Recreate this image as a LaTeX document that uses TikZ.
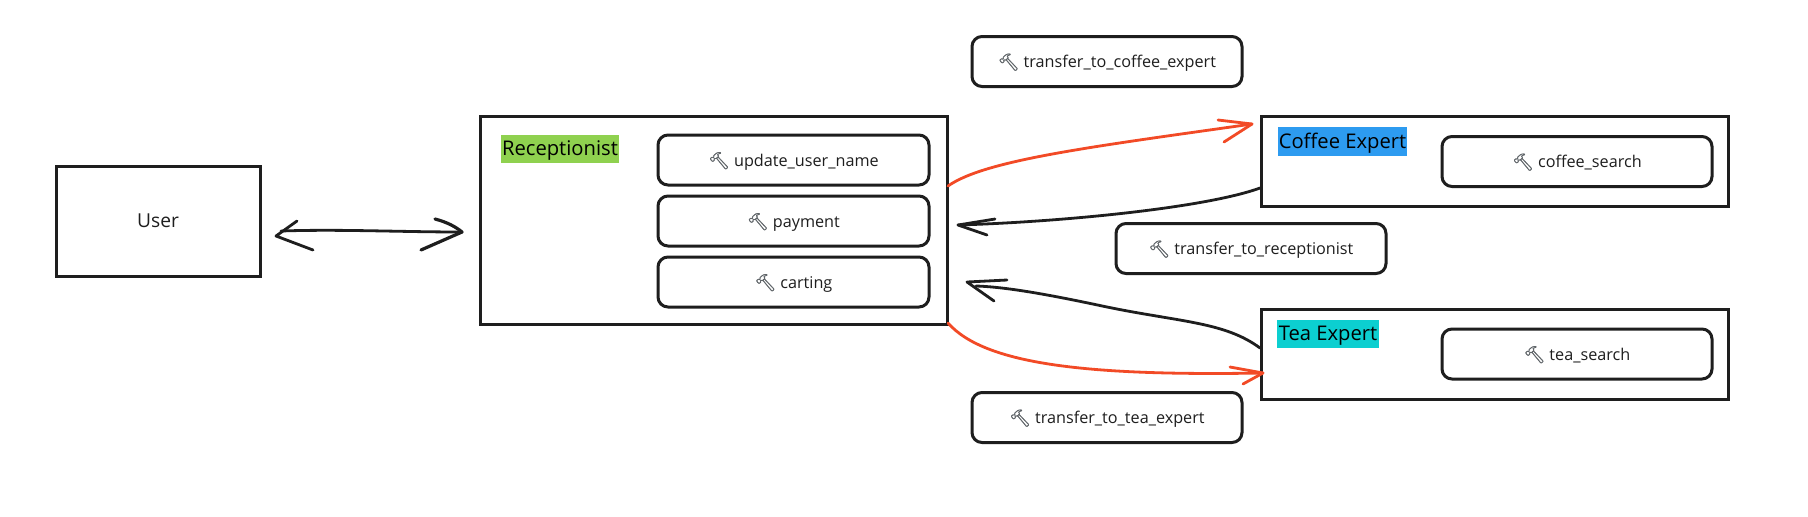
\documentclass[tikz,border=0pt]{standalone}
\usepackage{fontspec}
\setmainfont{Open Sans}
\newfontfamily\emojifont[FakeBold=1.2]{Noto Emoji}
\definecolor{ink}{HTML}{1E1E1E}
\definecolor{redline}{HTML}{F24A26}
\definecolor{hamgray}{HTML}{5F6468}
\definecolor{recgreen}{HTML}{8FD14F}
\definecolor{cofblue}{HTML}{2D9BF0}
\definecolor{teateal}{HTML}{0CCFD0}
\newcommand{\hammer}{{\emojifont\color{hamgray}\fontsize{8.4}{10}\selectfont\char"1F528}\hspace{2.2pt}}
\newcommand{\toollabel}[1]{\raisebox{0.7pt}{\hammer #1}}
\newcommand{\taglabel}[1]{\raisebox{-3.3pt}[0pt][0pt]{#1}}
\tikzset{
  x=0.5pt,y=-0.5pt,
  box/.style={draw=ink,line width=1.5pt,fill=white,rectangle,inner sep=0pt},
  toolbox/.style={draw=ink,line width=1.5pt,fill=white,rectangle,rounded corners=5pt,inner sep=0pt,font=\fontsize{8.1}{10}\selectfont,text=ink,anchor=center,text depth=0pt},
  tag/.style={rectangle,inner sep=0pt,font=\fontsize{10.1}{12}\selectfont,text=black,anchor=center},
  blackconn/.style={draw=ink,line width=1.4pt,line cap=round,line join=round},
  redconn/.style={draw=redline,line width=1.4pt,line cap=round,line join=round}
}
\begin{document}
\begin{tikzpicture}
\useasboundingbox (0,0) rectangle (1808,516);
\fill[white] (0,0) rectangle (1808,516);
% main boxes
\node[box,minimum width=102pt,minimum height=55pt,font=\fontsize{9.6}{12}\selectfont,text=ink] (user) at (158,221) {\raisebox{-0.5pt}{User}};
\node[box,minimum width=233.5pt,minimum height=104pt] (rec) at (714,220.5) {};
\node[box,minimum width=233.5pt,minimum height=45pt] (cof) at (1494.5,161.5) {};
\node[box,minimum width=233.5pt,minimum height=45pt] (tea) at (1494.5,354.5) {};
% tags
\node[tag,fill=recgreen,minimum width=59pt,minimum height=14pt] (rectag) at (560,149) {\taglabel{Receptionist}};
\node[tag,fill=cofblue,minimum width=64.5pt,minimum height=14.5pt] (coftag) at (1342.5,141.5) {\taglabel{Coffee Expert}};
\node[tag,fill=teateal,minimum width=51pt,minimum height=14pt] (teatag) at (1328,334) {\taglabel{Tea Expert}};
% tools
\node[toolbox,minimum width=135.5pt,minimum height=25pt] (t1) at (793.5,160) {\toollabel{update\_user\_name}};
\node[toolbox,minimum width=135.5pt,minimum height=25pt] (t2) at (793.5,221) {\toollabel{payment}};
\node[toolbox,minimum width=135.5pt,minimum height=25pt] (t3) at (793.5,282) {\toollabel{carting}};
\node[toolbox,minimum width=135pt,minimum height=25pt] (t4) at (1577,161.5) {\toollabel{coffee\_search}};
\node[toolbox,minimum width=135pt,minimum height=25pt] (t5) at (1577,354) {\toollabel{tea\_search}};
\node[toolbox,minimum width=135pt,minimum height=25pt] (t6) at (1107,61.5) {\toollabel{transfer\_to\_coffee\_expert}};
\node[toolbox,minimum width=135pt,minimum height=25pt] (t7) at (1251,248.5) {\toollabel{transfer\_to\_receptionist}};
\node[toolbox,minimum width=135pt,minimum height=25pt] (t8) at (1107,417.5) {\toollabel{transfer\_to\_tea\_expert}};
% connector ends
\coordinate (uTip) at (276,236);
\coordinate (uShaft) at (281,231);
\coordinate (rTip) at (462,232);
\coordinate (r1s) at (948,186);
\coordinate (c1e) at (1252,124);
\coordinate (c2s) at (1260,188);
\coordinate (r2e) at (958,225);
\coordinate (t2s) at (1260,348);
\coordinate (r3e) at (967,282);
\coordinate (r4s) at (948,323);
\coordinate (t4e) at (1263,373);
% user <-> receptionist
\draw[blackconn] (uShaft) .. controls (340,229) and (400,232) .. (rTip);
\draw[blackconn] (297,221) -- (uTip) -- (313,250);
\draw[blackconn,line width=1.6pt] (435,219) .. controls (447,222) and (456,227) .. (rTip) -- (421,250);
% receptionist -> coffee
\draw[redconn] (r1s) .. controls (985,160) and (1090,147) .. (c1e);
\draw[redconn] (1218,120) -- (c1e) -- (1224,142);
% coffee -> receptionist
\draw[blackconn] (c2s) .. controls (1205,208) and (1060,222) .. (r2e);
\draw[blackconn] (995,219) -- (r2e) -- (987,235);
% tea -> receptionist
\draw[blackconn] (t2s) .. controls (1225,322) and (1180,322) .. (1107,307) .. controls (1060,297) and (1010,287) .. (976,286);
\draw[blackconn] (1007,280) -- (r3e) -- (994,301);
% receptionist -> tea
\draw[redconn] (r4s) .. controls (985,365) and (1090,376) .. (t4e);
\draw[redconn] (1230,367) -- (t4e) -- (1243,384);
\end{tikzpicture}
\end{document}
